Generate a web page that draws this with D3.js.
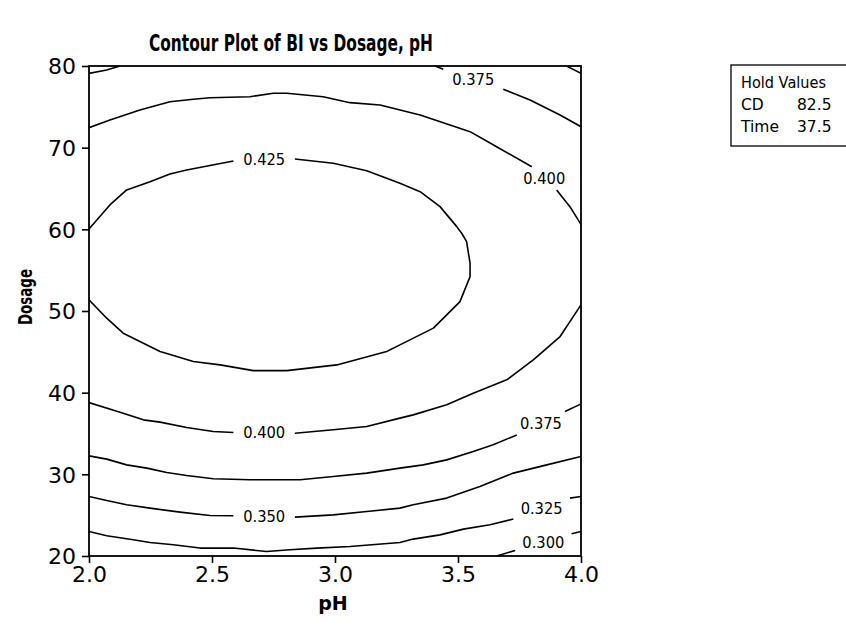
<!DOCTYPE html>
<html>
<head>
<meta charset="utf-8">
<script src="https://cdn.jsdelivr.net/npm/d3@7"></script>
<style>
  html, body { margin: 0; padding: 0; background: #fff; }
  svg { display: block; }
  text { font-family: "DejaVu Sans", Verdana, sans-serif; fill: #000; }
</style>
</head>
<body>
<svg id="chart" width="846" height="628"></svg>
<script>
// ---------------- data (pH, Dosage) ----------------
const xTicks = [2.0, 2.5, 3.0, 3.5, 4.0];
const yTicks = [20, 30, 40, 50, 60, 70, 80];
const holdNames = ["CD", "Time"];
const holdValues = ["82.5", "37.5"];

// 0.425 contour (label in the gap between the two pieces)
const line425 = [
  [[2.0,60.05],[2.085,62.99],[2.153,64.82],[2.248,65.84],[2.329,66.78],[2.397,67.27],[2.587,68.37]],
  [[2.837,68.62],[2.993,68.09],[3.129,67.18],[3.264,65.64],[3.346,64.61],[3.427,62.78],[3.495,60.33],
   [3.515,59.52],[3.535,58.49],[3.549,55.85],[3.549,54.21],[3.508,51.15],[3.495,50.75],[3.400,47.90],
   [3.264,45.85],[3.210,45.03],[3.007,43.40],[2.804,42.70],[2.668,42.70],[2.533,43.40],[2.424,43.81],
   [2.289,45.03],[2.139,47.28],[2.072,49.12],[2.0,51.36]]
];
// 0.400 contour, upper branch
const line400Upper = [
  [[2.0,72.45],[2.085,73.39],[2.207,74.61],[2.329,75.63],[2.424,75.92],[2.492,76.12],[2.654,76.24],
   [2.749,76.66],[2.804,76.66],[2.952,76.24],[3.061,75.51],[3.183,75.23],[3.346,74.00],[3.549,71.96],
   [3.657,70.12],[3.800,67.67]],
  [[3.901,64.82],[3.955,62.78],[4.0,60.6]]
];
// 0.400 contour, lower branch
const line400Lower = [
  [[2.0,38.79],[2.126,37.61],[2.221,36.67],[2.289,36.39],[2.397,35.73],[2.505,35.24],[2.587,35.12]],
  [[2.837,35.04],[2.993,35.45],[3.129,35.85],[3.264,36.88],[3.318,37.28],[3.454,38.51],[3.562,39.94],
   [3.698,41.57],[3.806,44.01],[3.915,46.87],[4.0,50.75]]
];
// 0.375 contour, top-left corner piece (unlabelled)
const line375Corner = [
  [[2.0,79.1],[2.072,79.5],[2.126,80.0]]
];
// 0.375 contour, top-right branch
const line375Top = [
  [[3.407,80.0],[3.440,79.6]],
  [[3.684,77.15],[3.793,75.84],[3.915,74.0],[4.0,72.57]]
];
// 0.350 contour, top-right corner piece (unlabelled)
const line350Corner = [
  [[3.941,80.0],[4.0,79.1]]
];
// 0.375 contour, lower branch
const line375Lower = [
  [[2.0,32.26],[2.072,31.86],[2.153,31.16],[2.235,30.76],[2.316,30.22],[2.397,29.85],[2.505,29.45],
   [2.654,29.33],[2.858,29.33],[2.993,29.73],[3.129,30.15],[3.264,30.76],[3.359,31.16],[3.454,31.77],
   [3.562,32.79],[3.643,33.61],[3.739,34.83]],
  [[3.935,37.69],[4.0,38.63]]
];
// 0.350 contour
const line350 = [
  [[2.0,27.28],[2.072,26.79],[2.153,26.27],[2.248,25.86],[2.370,25.37],[2.492,24.96],[2.587,24.92]],
  [[2.837,24.76],[2.993,25.04],[3.129,25.45],[3.264,25.86],[3.318,26.27],[3.454,27.09],[3.589,28.51],
   [3.725,30.15],[3.861,31.16],[4.0,32.18]]
];
// 0.325 contour
const line325 = [
  [[2.0,23.00],[2.072,22.47],[2.180,21.98],[2.248,21.65],[2.343,21.37],[2.451,20.97],[2.587,20.97],
   [2.722,20.55],[2.817,20.76],[2.926,20.97],[3.061,21.16],[3.264,21.65],[3.318,22.07],[3.427,22.59],
   [3.522,23.29],[3.630,23.82],[3.725,24.52]],
  [[3.955,27.09],[4.0,27.28]]
];
// 0.300 contour
const line300 = [
  [[3.657,20.0],[3.732,20.67]],
  [[3.962,22.72],[4.0,23.0]]
];

const contourLines = [
  { label: "0.425", pieces: line425 },
  { label: "0.400", pieces: line400Upper },
  { label: "0.400", pieces: line400Lower },
  { label: null,    pieces: line375Corner },
  { label: "0.375", pieces: line375Top },
  { label: null,    pieces: line350Corner },
  { label: "0.375", pieces: line375Lower },
  { label: "0.350", pieces: line350 },
  { label: "0.325", pieces: line325 },
  { label: "0.300", pieces: line300 }
];

// ---------------- layout ----------------
const svg = d3.select("#chart");
const plot = { left: 89, right: 581, top: 66, bottom: 556 };

const x = d3.scaleLinear().domain([2.0, 4.0]).range([plot.left, plot.right]);
const y = d3.scaleLinear().domain([20, 80]).range([plot.bottom, plot.top]);

svg.append("rect").attr("width", 846).attr("height", 628).attr("fill", "#fff");

// title
svg.append("text")
  .attr("x", 291).attr("y", 51)
  .attr("text-anchor", "middle")
  .attr("font-weight", "bold")
  .attr("font-size", 23)
  .attr("textLength", 284).attr("lengthAdjust", "spacingAndGlyphs")
  .text("Contour Plot of BI vs Dosage, pH");

// clip
svg.append("defs").append("clipPath").attr("id", "clip")
  .append("rect")
  .attr("x", plot.left).attr("y", plot.top)
  .attr("width", plot.right - plot.left).attr("height", plot.bottom - plot.top);

const line = d3.line().x(d => x(d[0])).y(d => y(d[1]));

const g = svg.append("g").attr("clip-path", "url(#clip)");
contourLines.forEach(c => {
  c.pieces.forEach(p => {
    g.append("path")
      .attr("d", line(p))
      .attr("fill", "none")
      .attr("stroke", "#000")
      .attr("stroke-width", 1.6)
      .attr("stroke-linejoin", "round");
  });
  if (c.label && c.pieces.length > 1) {
    const a = c.pieces[0][c.pieces[0].length - 1];
    const b = c.pieces[1][0];
    svg.append("text")
      .attr("x", (x(a[0]) + x(b[0])) / 2)
      .attr("y", (y(a[1]) + y(b[1])) / 2)
      .attr("text-anchor", "middle")
      .attr("dominant-baseline", "central")
      .attr("font-size", 16)
      .attr("textLength", 42).attr("lengthAdjust", "spacingAndGlyphs")
      .text(c.label);
  }
});

// frame
svg.append("rect")
  .attr("x", plot.left).attr("y", plot.top)
  .attr("width", plot.right - plot.left).attr("height", plot.bottom - plot.top)
  .attr("fill", "none").attr("stroke", "#000").attr("stroke-width", 1.8);

// axes
const xAxis = d3.axisBottom(x).tickValues(xTicks).tickFormat(d3.format(".1f")).tickSize(7).tickSizeOuter(0);
const yAxis = d3.axisLeft(y).tickValues(yTicks).tickFormat(d3.format("d")).tickSize(7).tickSizeOuter(0);

const gx = svg.append("g").attr("transform", `translate(0,${plot.bottom})`).call(xAxis);
const gy = svg.append("g").attr("transform", `translate(${plot.left},0)`).call(yAxis);
[gx, gy].forEach(ax => {
  ax.select(".domain").remove();
  ax.selectAll(".tick line").attr("stroke", "#000").attr("stroke-width", 1.6);
  ax.selectAll(".tick text")
    .attr("font-size", 22)
    .attr("font-family", "\"DejaVu Sans\", Verdana, sans-serif")
    .attr("fill", "#000");
});
gx.selectAll(".tick text").attr("dy", "0.9em").attr("y", 6);
gy.selectAll(".tick text").attr("x", -13).attr("dy", "0.36em");

// axis titles
svg.append("text")
  .attr("x", 333).attr("y", 610)
  .attr("text-anchor", "middle")
  .attr("font-weight", "bold").attr("font-size", 19)
  .text("pH");
svg.append("text")
  .attr("transform", "translate(32,297) rotate(-90)")
  .attr("text-anchor", "middle")
  .attr("font-weight", "bold").attr("font-size", 19)
  .attr("textLength", 56).attr("lengthAdjust", "spacingAndGlyphs")
  .text("Dosage");

// hold values box
svg.append("rect")
  .attr("x", 731).attr("y", 65).attr("width", 130).attr("height", 81)
  .attr("fill", "#fff").attr("stroke", "#000").attr("stroke-width", 1.3);
svg.append("text").attr("x", 741).attr("y", 88).attr("font-size", 15.5)
  .attr("textLength", 85).attr("lengthAdjust", "spacingAndGlyphs").text("Hold Values");
holdNames.forEach((n, i) => {
  svg.append("text").attr("x", 741).attr("y", 110 + i * 22).attr("font-size", 15.5).text(n);
  svg.append("text").attr("x", 797).attr("y", 110 + i * 22).attr("font-size", 15.5).text(holdValues[i]);
});
</script>
</body>
</html>
